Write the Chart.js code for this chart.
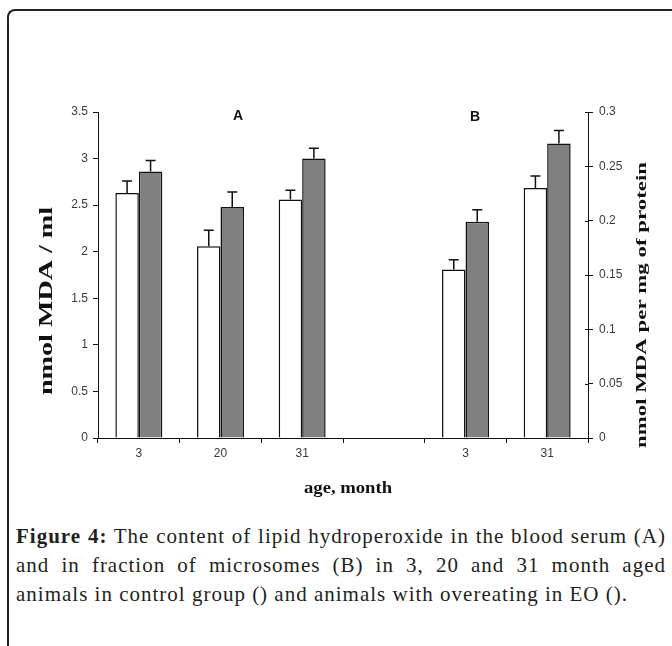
<!DOCTYPE html>
<html>
<head>
<meta charset="utf-8">
<script src="https://cdn.jsdelivr.net/npm/chart.js@4.4.1/dist/chart.umd.min.js"></script>
<style>
  html, body { margin: 0; padding: 0; background: #fff; }
  body { width: 672px; height: 646px; position: relative; overflow: hidden; }
  #frame {
    position: absolute; left: 7px; top: 9px; width: 700px; height: 700px;
    border-left: 2px solid #222; border-top: 2px solid #222;
    border-top-left-radius: 8px;
  }
  #wrap { position: absolute; left: 0; top: 0; width: 672px; height: 500px; }
  #caption {
    position: absolute; left: 16px; top: 522px; width: 650px;
    font-family: "Liberation Serif", "Times New Roman", serif;
    font-size: 21px; line-height: 29px; letter-spacing: 1.0px;
    text-align: justify; color: #231f20;
  }
</style>
</head>
<body>
<div id="frame"></div>
<div id="wrap"><canvas id="chart"></canvas></div>
<div id="caption"><b>Figure 4:</b> The content of lipid hydroperoxide in the blood serum (A) and in fraction of microsomes (B) in 3, 20 and 31 month aged animals in control group () and animals with overeating in EO ().</div>
<script>
"use strict";
// age groups (the empty slot separates panel A from panel B)
var categories = ["3", "20", "31", "", "3", "31"];

// panel A: blood serum, nmol MDA / ml (left axis)
var controlA = [2.63, 2.06, 2.56, null, null, null];
var controlAErr = [0.13, 0.17, 0.10, null, null, null];
var eoA = [2.86, 2.48, 3.00, null, null, null];
var eoAErr = [0.12, 0.16, 0.11, null, null, null];

// panel B: microsomes, nmol MDA per mg of protein (right axis)
var controlB = [null, null, null, null, 0.155, 0.230];
var controlBErr = [null, null, null, null, 0.009, 0.011];
var eoB = [null, null, null, null, 0.199, 0.271];
var eoBErr = [null, null, null, null, 0.011, 0.012];

var leftTicks = { min: 0, max: 3.5, step: 0.5 };
var rightTicks = { min: 0, max: 0.3, step: 0.05 };

Chart.defaults.font.family = "'Liberation Sans', Arial, sans-serif";
Chart.defaults.color = "#3a3a3a";

var errorBars = {
  id: "errorBars",
  afterDatasetsDraw: function (chart) {
    var ctx = chart.ctx;
    ctx.save();
    ctx.strokeStyle = "#111";
    ctx.lineWidth = 1.5;
    chart.data.datasets.forEach(function (ds, i) {
      var meta = chart.getDatasetMeta(i),
        scale = chart.scales[ds.yAxisID];
      meta.data.forEach(function (bar, j) {
        var v = ds.data[j], e = ds.errors[j];
        if (v == null || e == null) return;
        var top = scale.getPixelForValue(v + e);
        ctx.beginPath();
        ctx.moveTo(bar.x, bar.y);
        ctx.lineTo(bar.x, top);
        ctx.moveTo(bar.x - 5, top);
        ctx.lineTo(bar.x + 5, top);
        ctx.stroke();
      });
    });
    ctx.restore();
  },
};

// stretched bold serif labels like the original figure
function stretchedText(ctx, text, font, x, y, length, rot) {
  ctx.save();
  ctx.font = font;
  var w = ctx.measureText(text).width;
  ctx.translate(x, y);
  if (rot) ctx.rotate(rot);
  ctx.scale(length / w, 1);
  ctx.textAlign = "center";
  ctx.textBaseline = "middle";
  ctx.fillStyle = "#111";
  ctx.fillText(text, 0, 0);
  ctx.restore();
}

var labels = {
  id: "labels",
  afterDraw: function (chart) {
    var ctx = chart.ctx, a = chart.chartArea, y2 = chart.scales.y2;
    ctx.save();
    // right axis tick marks cross the axis line
    ctx.strokeStyle = "#111";
    ctx.lineWidth = 1;
    y2.ticks.forEach(function (t) {
      var py = Math.round(y2.getPixelForValue(t.value)) + 0.5;
      ctx.beginPath();
      ctx.moveTo(a.right - 3, py);
      ctx.lineTo(a.right, py);
      ctx.stroke();
    });
    ctx.font = "bold 14px 'Liberation Sans', Arial, sans-serif";
    ctx.fillStyle = "#111";
    ctx.textAlign = "center";
    ctx.textBaseline = "middle";
    ctx.fillText("A", 238, a.top + 4);
    ctx.fillText("B", 475, a.top + 5);
    ctx.restore();
    var serif = "'Liberation Serif', 'Times New Roman', serif";
    stretchedText(ctx, "nmol MDA / ml", "bold 18px " + serif, 47, 301, 188, -Math.PI / 2);
    stretchedText(ctx, "nmol MDA per mg of protein", "bold 15px " + serif, 642, 305, 286, -Math.PI / 2);
    stretchedText(ctx, "age, month", "bold 16px " + serif, (a.left + a.right) / 2 + 5, 489, 88, 0);
  },
};

function fmt(v) {
  return String(+v.toFixed(3));
}

var barStyle = {
  borderColor: "#111",
  borderWidth: 1.5,
  borderSkipped: "bottom",
  barPercentage: 1,
  categoryPercentage: 0.575,
  skipNull: true,
};

new Chart(document.getElementById("chart"), {
  type: "bar",
  data: {
    labels: categories,
    datasets: [
      Object.assign({ label: "control", data: controlA, errors: controlAErr, backgroundColor: "#ffffff", yAxisID: "y" }, barStyle),
      Object.assign({ label: "EO", data: eoA, errors: eoAErr, backgroundColor: "#808080", yAxisID: "y" }, barStyle),
      Object.assign({ label: "control", data: controlB, errors: controlBErr, backgroundColor: "#ffffff", yAxisID: "y2" }, barStyle),
      Object.assign({ label: "EO", data: eoB, errors: eoBErr, backgroundColor: "#808080", yAxisID: "y2" }, barStyle),
    ],
  },
  options: {
    animation: false,
    responsive: true,
    maintainAspectRatio: false,
    layout: { padding: { top: 112, left: 0, right: 0, bottom: 0 } },
    plugins: { legend: { display: false }, tooltip: { enabled: false } },
    scales: {
      x: {
        grid: { offset: true, drawOnChartArea: false, tickLength: 5, color: "#111" },
        border: { color: "#111", width: 1 },
        ticks: { font: { size: 12 }, padding: 3 },
        afterFit: function (s) { s.height = 62; },
      },
      y: {
        position: "left",
        min: leftTicks.min,
        max: leftTicks.max,
        grid: { drawOnChartArea: false, tickLength: 5, color: "#111" },
        border: { color: "#111", width: 1 },
        ticks: { stepSize: leftTicks.step, font: { size: 12 }, padding: 5, callback: fmt },
        afterFit: function (s) { s.width = 98; },
      },
      y2: {
        position: "right",
        min: rightTicks.min,
        max: rightTicks.max,
        grid: { drawOnChartArea: false, tickLength: 5, color: "#111" },
        border: { color: "#111", width: 1 },
        ticks: { stepSize: rightTicks.step, font: { size: 12 }, padding: 6, callback: fmt },
        afterFit: function (s) { s.width = 84; },
      },
    },
  },
  plugins: [errorBars, labels],
});
</script>
</body>
</html>
